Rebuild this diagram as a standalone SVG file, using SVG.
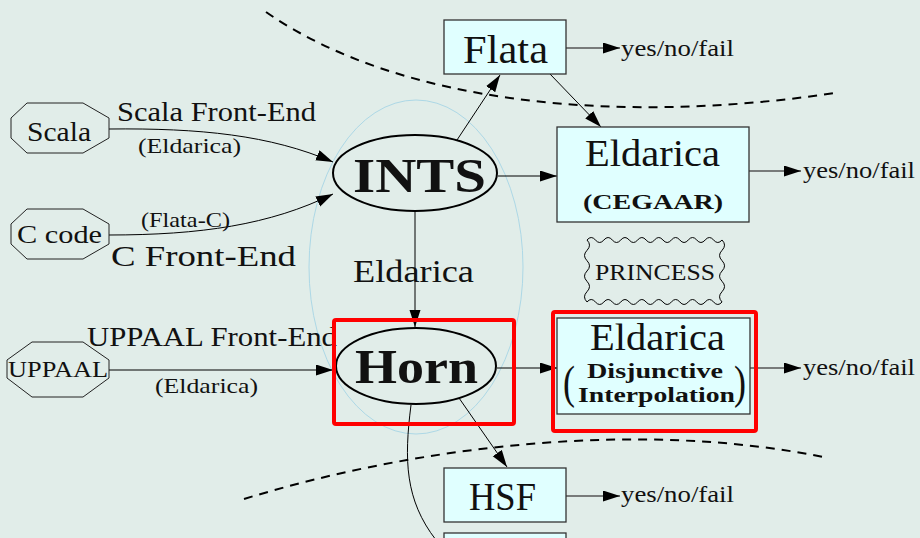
<svg xmlns="http://www.w3.org/2000/svg" width="920" height="538" viewBox="0 0 920 538" font-family="'Liberation Serif', 'Times New Roman', Times, serif">
<defs>
<marker id="ah" markerUnits="userSpaceOnUse" markerWidth="18" markerHeight="12" refX="17" refY="5.5" orient="auto">
<path d="M0,0 L17,5.5 L0,11 z" fill="#000"/>
</marker>
<style>
text{font-family:'Liberation Serif','Times New Roman',Times,serif;fill:#111;}
.b{font-weight:bold;}
.box{fill:#e0ffff;stroke:#333;stroke-width:1.3;}
.oct{fill:none;stroke:#222;stroke-width:1;}
.ell{fill:none;stroke:#000;stroke-width:2;}
.red{fill:none;stroke:#ff0000;stroke-width:4;}
.e{fill:none;stroke:#000;stroke-width:1;marker-end:url(#ah);}
.g{fill:none;stroke:#555;stroke-width:1.5;marker-end:url(#ah);}
.dash{fill:none;stroke:#000;stroke-width:2;stroke-dasharray:9,7;}
</style>
</defs>
<rect width="920" height="538" fill="#e1ede9"/>
<g id="regions">
<path class="dash" d="M266,12 C400,105 620,125 835,93"/>
<path class="dash" d="M244,499 C420,445 640,420 823,457"/>
<ellipse cx="416" cy="267" rx="107" ry="167" fill="none" stroke="#add8e6" stroke-width="1"/>
</g>
<g id="connectors">
<path class="e" d="M109,129 C200,128 270,135 333,162"/>
<path class="e" d="M109,235 C200,235 270,225 333,194"/>
<path class="e" d="M109,370 L333,370"/>
<path class="e" d="M415,212 L415,327"/>
<path class="e" d="M457,140 L500,75"/>
<path class="e" d="M550,74 L601,127"/>
<path class="e" d="M498,176 L557,176"/>
<path class="e" d="M497,368 L557,368"/>
<path class="e" d="M459,398 L507,467"/>
<path fill="none" stroke="#000" stroke-width="1" d="M411,405 C404,460 405,500 436,540"/>
<path class="g" d="M566,48 L620,48"/>
<path class="g" d="M749,171 L801,171"/>
<path class="g" d="M750,368 L801,368"/>
<path class="g" d="M566,496 L620,496"/>
</g>
<g id="labels">
<text x="117" y="121" font-size="27" textLength="199" lengthAdjust="spacingAndGlyphs">Scala Front-End</text>
<text x="138" y="153" font-size="22" textLength="103" lengthAdjust="spacingAndGlyphs">(Eldarica)</text>
<text x="141" y="227" font-size="21" textLength="89" lengthAdjust="spacingAndGlyphs">(Flata-C)</text>
<text x="111" y="266" font-size="30" textLength="185" lengthAdjust="spacingAndGlyphs">C Front-End</text>
<text x="87" y="346" font-size="27" textLength="250" lengthAdjust="spacingAndGlyphs">UPPAAL Front-End</text>
<text x="155" y="393" font-size="22" textLength="103" lengthAdjust="spacingAndGlyphs">(Eldarica)</text>
<text x="353" y="282" font-size="31" textLength="121" lengthAdjust="spacingAndGlyphs">Eldarica</text>
<text x="621" y="56" font-size="23" textLength="113" lengthAdjust="spacingAndGlyphs">yes/no/fail</text>
<text x="803" y="178" font-size="23" textLength="112" lengthAdjust="spacingAndGlyphs">yes/no/fail</text>
<text x="803" y="375" font-size="23" textLength="112" lengthAdjust="spacingAndGlyphs">yes/no/fail</text>
<text x="621" y="502" font-size="23" textLength="113" lengthAdjust="spacingAndGlyphs">yes/no/fail</text>
</g>
<g id="scala">
<polygon class="oct" points="27,103 83,103 109,118 109,138 83,153 27,153 11,138 11,118"/>
<text x="27" y="141" font-size="28" textLength="64" lengthAdjust="spacingAndGlyphs">Scala</text>
</g>
<g id="ccode">
<polygon class="oct" points="27,209 83,209 109,224 109,244 83,259 27,259 11,244 11,224"/>
<text x="17" y="243" font-size="25" textLength="85" lengthAdjust="spacingAndGlyphs">C code</text>
</g>
<g id="uppaal">
<polygon class="oct" points="32,342 83,342 109,360 109,378 83,397 32,397 7,378 7,360"/>
<text x="8" y="377" font-size="24" textLength="100" lengthAdjust="spacingAndGlyphs">UPPAAL</text>
</g>
<g id="ints">
<ellipse class="ell" cx="415" cy="173" rx="82" ry="38"/>
<text class="b" x="353" y="192" font-size="49" textLength="133" lengthAdjust="spacingAndGlyphs">INTS</text>
</g>
<g id="horn">
<ellipse class="ell" cx="416" cy="366" rx="80" ry="38"/>
<text class="b" x="355" y="383" font-size="48" textLength="123" lengthAdjust="spacingAndGlyphs">Horn</text>
<rect class="red" x="334" y="320" width="180" height="104" rx="2"/>
</g>
<g id="flata">
<rect class="box" x="444" y="20" width="122" height="54"/>
<text x="463" y="63" font-size="40" textLength="85" lengthAdjust="spacingAndGlyphs">Flata</text>
</g>
<g id="cegaar">
<rect class="box" x="557" y="127" width="192" height="95"/>
<text x="585" y="166" font-size="37" textLength="135" lengthAdjust="spacingAndGlyphs">Eldarica</text>
<text class="b" x="583" y="209" font-size="22" textLength="140" lengthAdjust="spacingAndGlyphs">(CEGAAR)</text>
</g>
<g id="princess">
<path fill="none" stroke="#000" stroke-width="1" d="M587,240 q4.22,-5 8.44,0 t8.44,0 t8.44,0 t8.44,0 t8.44,0 t8.44,0 t8.44,0 t8.44,0 t8.44,0 t8.44,0 t8.44,0 t8.44,0 t8.44,0 t8.44,0 t8.44,0 t8.44,0 q5,5.17 0,10.33 t0,10.33 t0,10.33 t0,10.33 t0,10.33 t0,10.35 q-4.22,5 -8.44,0 t-8.44,0 t-8.44,0 t-8.44,0 t-8.44,0 t-8.44,0 t-8.44,0 t-8.44,0 t-8.44,0 t-8.44,0 t-8.44,0 t-8.44,0 t-8.44,0 t-8.44,0 t-8.44,0 t-8.44,0 q-5,-5.17 0,-10.33 t0,-10.33 t0,-10.33 t0,-10.33 t0,-10.33 t0,-10.35 z"/>
<text x="595" y="280" font-size="23" textLength="120" lengthAdjust="spacingAndGlyphs">PRINCESS</text>
</g>
<g id="disjunctive">
<rect class="box" x="557" y="318" width="193" height="96"/>
<text x="590" y="350" font-size="37" textLength="135" lengthAdjust="spacingAndGlyphs">Eldarica</text>
<text x="563" y="398" font-size="46" textLength="12" lengthAdjust="spacingAndGlyphs">(</text>
<text x="734" y="398" font-size="46" textLength="12" lengthAdjust="spacingAndGlyphs">)</text>
<text class="b" x="587" y="378" font-size="20" textLength="136" lengthAdjust="spacingAndGlyphs">Disjunctive</text>
<text class="b" x="578" y="402" font-size="20" textLength="157" lengthAdjust="spacingAndGlyphs">Interpolation</text>
<rect class="red" x="553" y="312" width="203" height="119" rx="2"/>
</g>
<g id="hsf">
<rect class="box" x="444" y="468" width="122" height="54"/>
<text x="469" y="510" font-size="40" textLength="67" lengthAdjust="spacingAndGlyphs">HSF</text>
</g>
<g id="next">
<rect class="box" x="444" y="533" width="122" height="30"/>
</g>
</svg>
